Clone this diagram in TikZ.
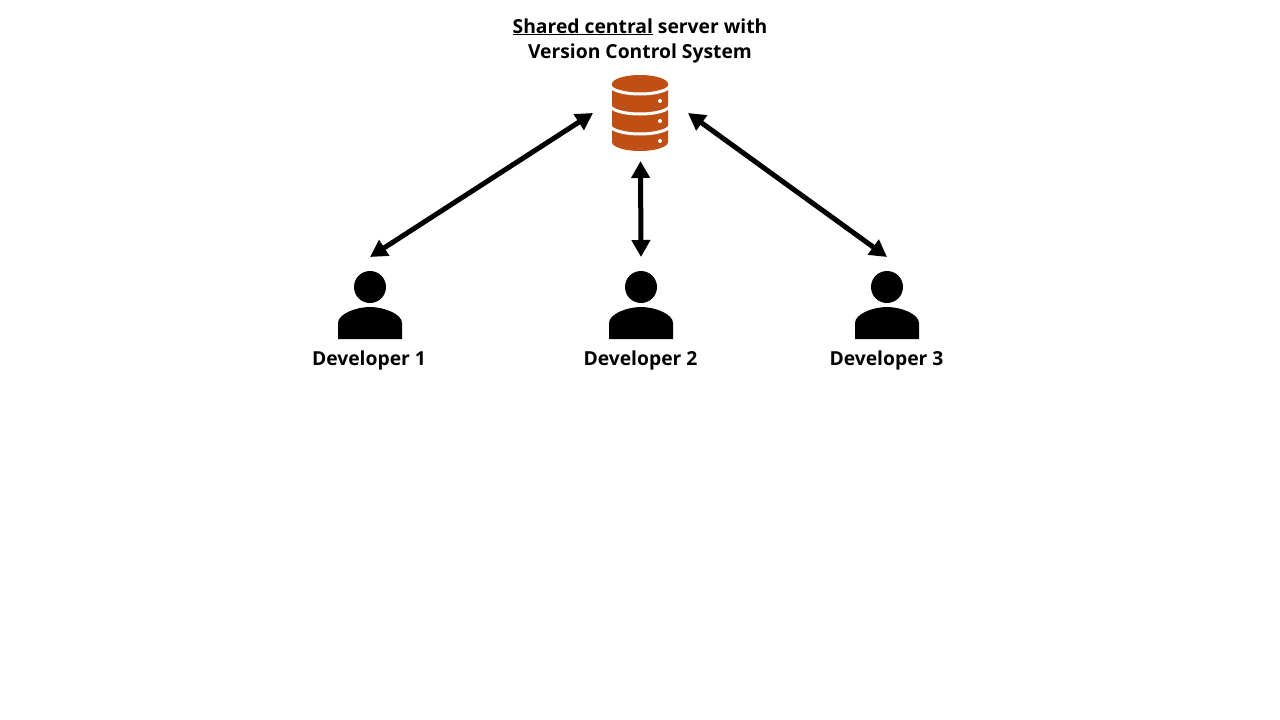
\documentclass[tikz,border=0pt]{standalone}
\usepackage{fontspec}
\setmainfont{Open Sans}[BoldFont={Open Sans Bold}]
\usetikzlibrary{arrows.meta}
\newcommand{\personicon}[1]{%
  \begin{scope}[shift={(#1,0)}]
    \fill[black] (0,287) circle[radius=16];
    \fill[black] (-32,339) -- (-32,323) .. controls (-32,314) and (-14,307) .. (0,307)
      .. controls (14,307) and (32,314) .. (32,323) -- (32,339) -- cycle;
  \end{scope}}
\tikzset{
  x=1pt,y=-1pt,
  label text/.style={font=\bfseries\fontsize{19.3}{25}\selectfont,text=black,inner sep=0pt,align=center},
  link/.style={line width=5pt,black,{Triangle[length=17pt,width=18pt]}-{Triangle[length=17pt,width=18pt]}},
  band/.style={white,line width=3pt}
}
\definecolor{dbrust}{RGB}{192,79,21}
\begin{document}
\begin{tikzpicture}
\useasboundingbox (0,0) rectangle (1280,720);
\fill[white] (0,0) rectangle (1280,720);
% database icon
\fill[dbrust] (612,84) arc[x radius=28,y radius=9,start angle=180,end angle=360]
  -- (668,142) arc[x radius=28,y radius=9,start angle=0,end angle=180] -- cycle;
\foreach \y in {85,105,125}{
  \draw[band] (610,\y) arc[x radius=30,y radius=9,start angle=180,end angle=0];
}
\foreach \y in {101,121,141}{ \fill[white] (660,\y) circle[radius=2]; }
% people
\personicon{370}
\personicon{641}
\personicon{887}
% labels
\node[label text] (title) at (640,40.5) {\underline{Shared central} server with\\Version Control System};
\node[label text] (dev1) at (369,360.5) {Developer 1};
\node[label text] (dev2) at (640.5,360.5) {Developer 2};
\node[label text] (dev3) at (886.5,360.5) {Developer 3};
% connector ends
\coordinate (s1) at (593,113);
\coordinate (s2) at (640.5,161);
\coordinate (s3) at (688,113);
\coordinate (d1) at (370,257);
\coordinate (d2) at (641,257);
\coordinate (d3) at (887,257);
\draw[link] (d1) -- (s1);
\draw[link] (d2) -- (s2);
\draw[link] (d3) -- (s3);
\end{tikzpicture}
\end{document}
